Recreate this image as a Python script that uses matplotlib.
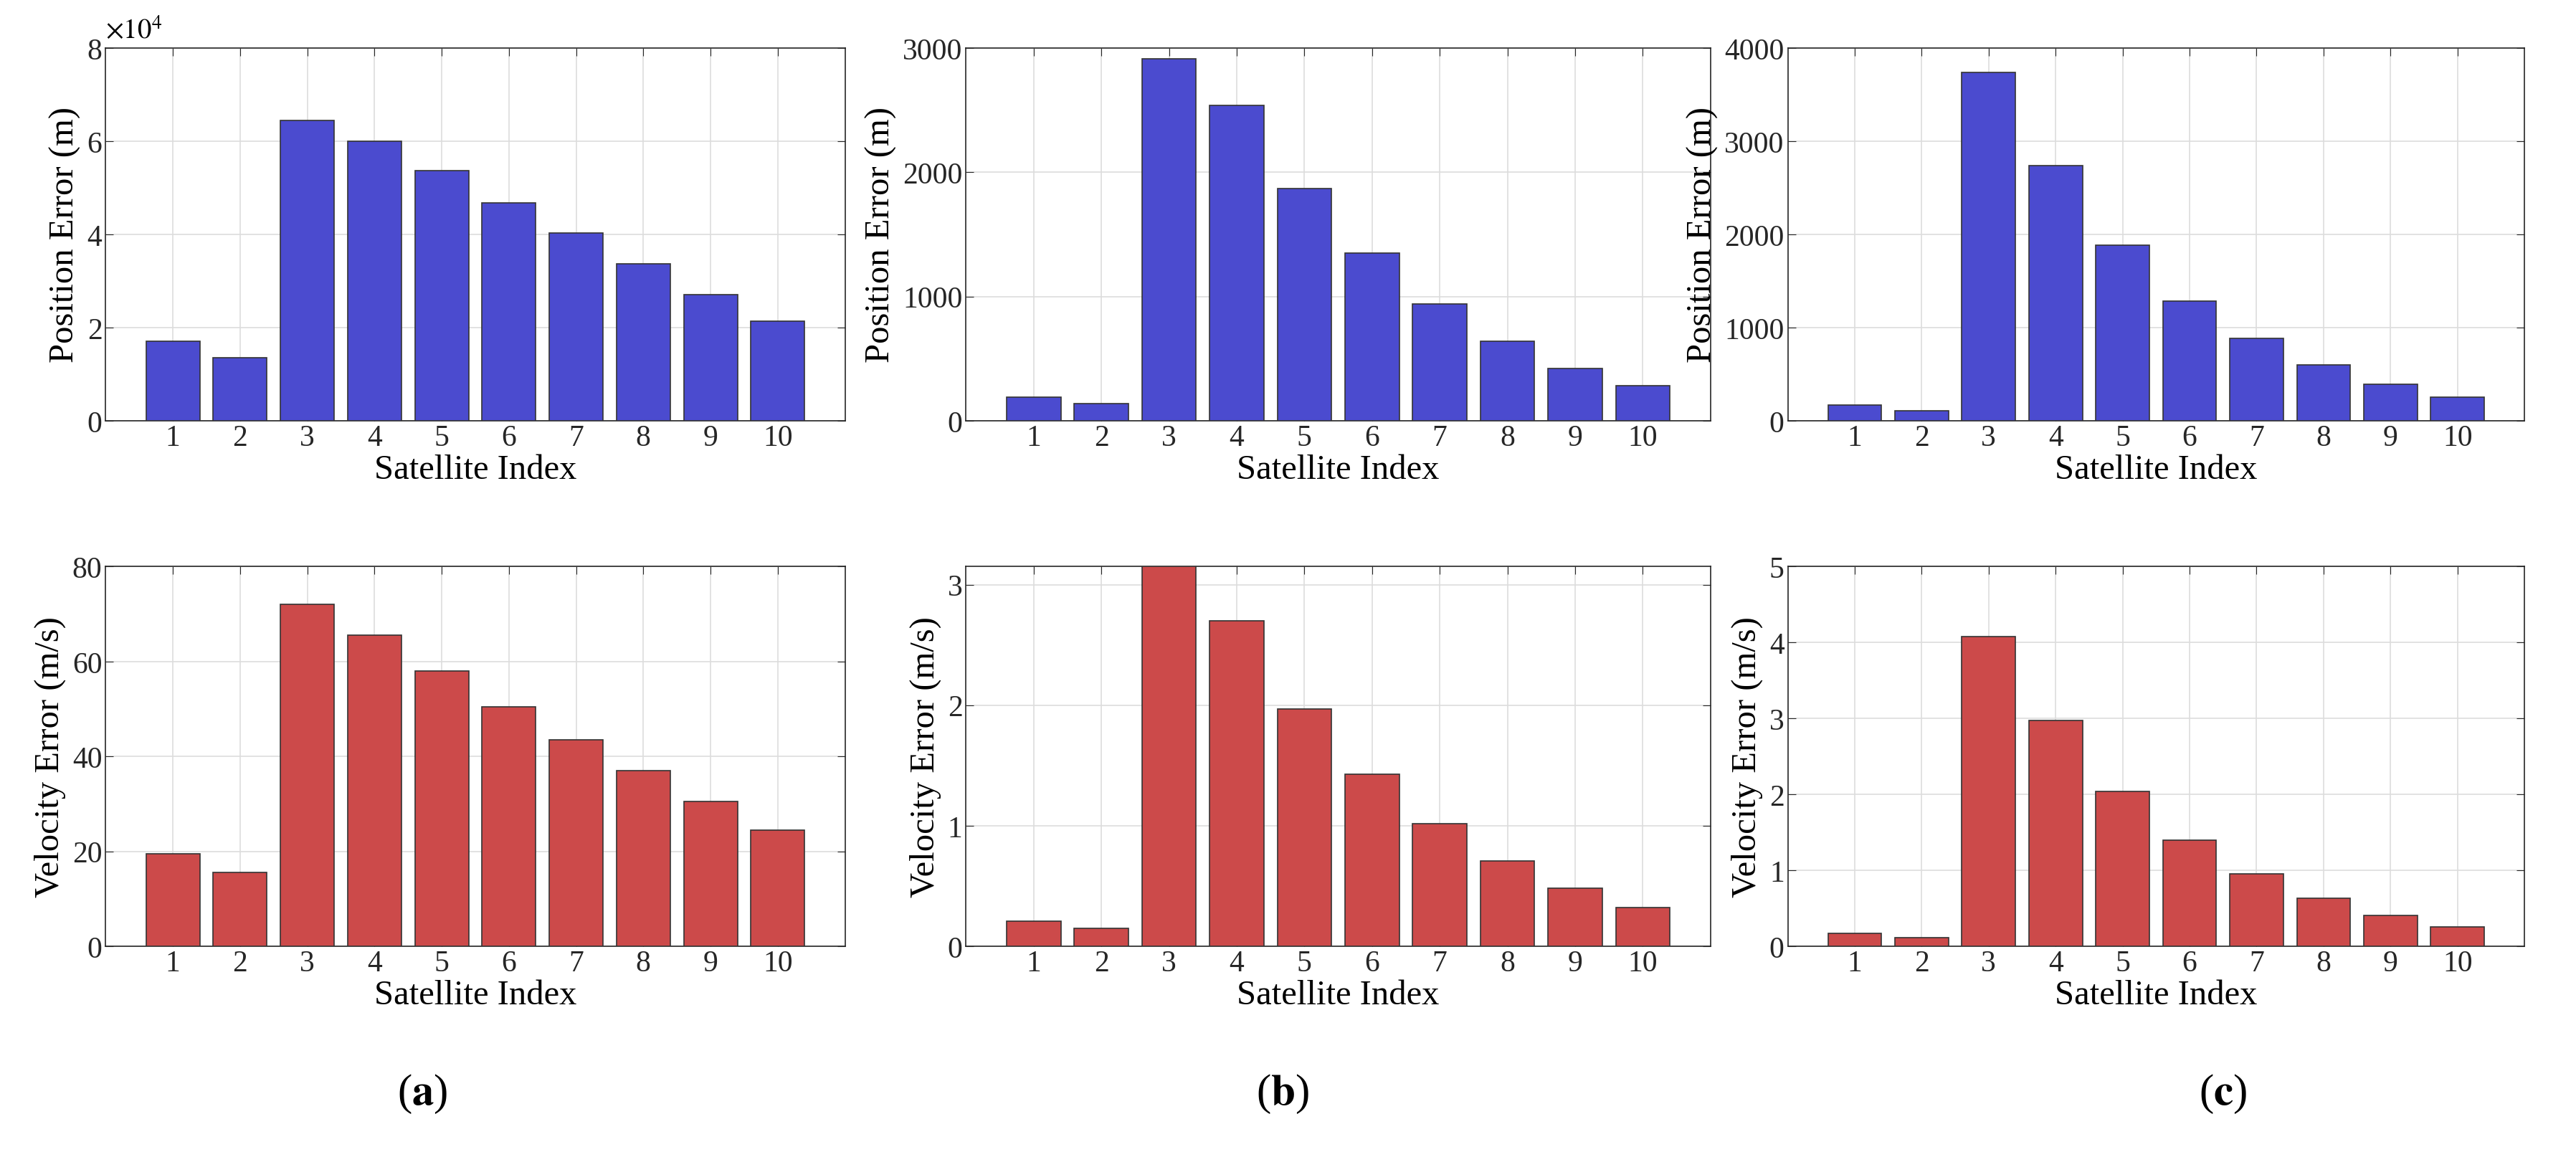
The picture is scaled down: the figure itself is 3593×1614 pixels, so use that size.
import matplotlib
matplotlib.use("Agg")
import matplotlib.pyplot as plt

sat_idx = list(range(1, 11))
pos_a = [1.7, 1.35, 6.45, 6.0, 5.37, 4.68, 4.03, 3.37, 2.7, 2.13]  # x1e4
vel_a = [19.5, 15.5, 72, 65.5, 58, 50.5, 43.5, 37, 30.5, 24.5]
pos_b = [190, 140, 2910, 2540, 1870, 1350, 940, 640, 420, 280]
vel_b = [0.21, 0.15, 3.15, 2.7, 1.97, 1.43, 1.02, 0.71, 0.48, 0.32]
pos_c = [170, 110, 3740, 2740, 1880, 1280, 880, 600, 390, 250]
vel_c = [0.17, 0.11, 4.08, 2.97, 2.04, 1.4, 0.95, 0.63, 0.41, 0.26]

plt.rcParams['font.family'] = ['Liberation Serif', 'DejaVu Serif']
plt.rcParams['mathtext.fontset'] = 'stix'
fig = plt.figure(figsize=(35.93, 16.15), dpi=100)

cols = [(0.041, 0.287), (0.375, 0.289), (0.694, 0.286)]
rows = [(0.636, 0.322), (0.182, 0.328)]
blue, red = '#4b4bcf', '#cc4a4a'
data = [[(pos_a, 8, 'Position Error (m)', blue), (vel_a, 80, 'Velocity Error (m/s)', red)],
        [(pos_b, 3000, 'Position Error (m)', blue), (vel_b, 3.15, 'Velocity Error (m/s)', red)],
        [(pos_c, 4000, 'Position Error (m)', blue), (vel_c, 5, 'Velocity Error (m/s)', red)]]
yticks = [[[0, 2, 4, 6, 8], [0, 20, 40, 60, 80]],
          [[0, 1000, 2000, 3000], [0, 1, 2, 3]],
          [[0, 1000, 2000, 3000, 4000], [0, 1, 2, 3, 4, 5]]]
for ci, (l, w) in enumerate(cols):
    for ri, (b, h) in enumerate(rows):
        vals, ymax, lab, col = data[ci][ri]
        ax = fig.add_axes([l, b, w, h])
        ax.bar(sat_idx, vals, width=0.8, color=col, edgecolor='#333333', linewidth=1.2, zorder=3)
        ax.set_xlim(0, 11)
        ax.set_ylim(0, ymax)
        ax.set_xticks(sat_idx)
        ax.set_yticks(yticks[ci][ri])
        ax.grid(True, color='#dddddd', linewidth=1.2, zorder=0)
        ax.tick_params(direction='in', labelsize=30, length=8, top=True, right=True, colors='#262626')
        for s in ax.spines.values():
            s.set_color('#262626'); s.set_linewidth(1.2)
        ax.set_xlabel('Satellite Index', fontsize=35, labelpad=2)
        ax.set_ylabel(lab, fontsize=35, labelpad=6)
        if ci == 0 and ri == 0:
            ax.text(0, 1.01, r'$\times10^4$', transform=ax.transAxes, fontsize=28, va='bottom')

for cx, t in [(0.164, 'a'), (0.498, 'b'), (0.863, 'c')]:
    fig.text(cx, 0.055, '(' + r'$\mathbf{' + t + '}$' + ')', fontsize=44, ha='center', va='center')

fig.savefig('out.png', dpi=100)
